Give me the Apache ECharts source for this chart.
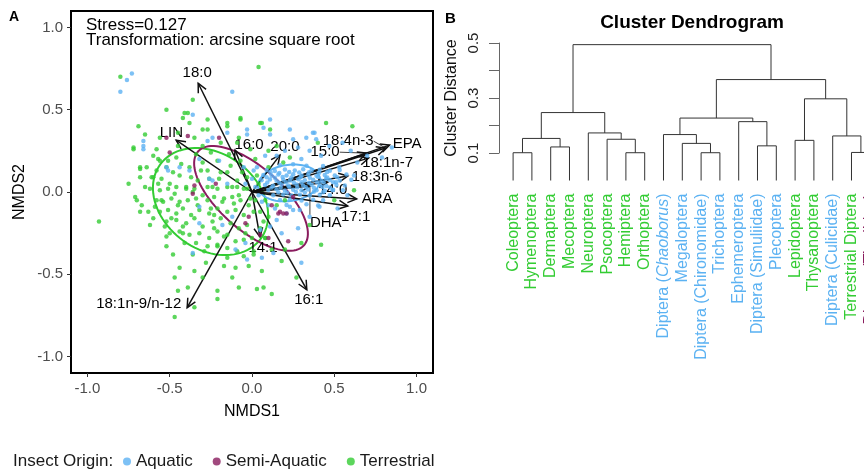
<!DOCTYPE html>
<html>
<head>
<meta charset="utf-8">
<script src="https://cdn.jsdelivr.net/npm/echarts@6.0.0/dist/echarts.min.js"></script>
<style>
  html, body { margin: 0; padding: 0; background: #fff; }
  #main { width: 864px; height: 472px; }
</style>
</head>
<body>
<div id="main"></div>
<script>
var FONT = '"Liberation Sans", Arial, sans-serif';

// ---- panel A: NMDS scores ----
var nmdsTicks = [-1, -0.5, 0, 0.5, 1];

var terrestrial = [
  [-0.80,0.70],[0.04,0.76],[-0.36,0.56],[-0.52,0.50],[-0.41,0.48],[-0.39,0.48],[-0.42,0.45],[-0.38,0.42],
  [-0.69,0.40],[-0.65,0.35],[-0.72,0.27],[-0.72,0.26],[-0.56,0.33],[-0.27,0.44],[-0.27,0.38],[-0.15,0.42],
  [-0.15,0.40],[-0.07,0.44],[0.05,0.42],[0.11,0.38],[-0.60,0.22],[-0.57,0.20],[-0.68,0.15],[-0.68,0.09],
  [-0.60,0.09],[-0.51,0.19],[-0.35,0.33],[0.61,0.40],[0.62,0.01],[0.42,-0.32],[0.30,-0.31],[0.27,-0.52],
  [0.12,-0.62],[0.07,-0.58],[0.03,-0.59],[-0.08,-0.58],[-0.21,-0.60],[-0.21,-0.65],[-0.35,-0.70],[-0.47,-0.76],
  [-0.93,-0.18],[-0.71,-0.03],[-0.70,-0.05],[-0.68,-0.12],[-0.63,-0.12],[-0.60,-0.16],[-0.67,-0.08],[-0.52,-0.33],
  [-0.48,-0.38],[-0.44,-0.46],[-0.47,-0.52],[-0.39,-0.58],[-0.17,-0.45],[-0.15,-0.40],[-0.10,-0.46],[-0.21,-0.33],
  [-0.05,-0.39],[0.01,-0.38],[0.19,0.18],[0.23,0.21],[-0.07,0.45],[0.06,0.42],
  [-0.58,0.13],[-0.52,0.15],[-0.44,0.10],[-0.38,0.15],[-0.33,0.07],[-0.27,0.13],[-0.20,0.08],[-0.15,0.12],
  [-0.09,0.07],[-0.03,0.09],[-0.50,0.05],[-0.40,0.03],[-0.24,0.03],[-0.12,0.03],[-0.56,0.19],[-0.46,0.21],
  [-0.34,0.23],[-0.21,0.19],[-0.14,0.23],[-0.07,0.19],[-0.19,0.30],[-0.30,0.28],[-0.09,0.30],[-0.01,0.26],
  [-0.61,0.09],[-0.64,0.15],[-0.68,0.14],[-0.58,0.26],
  [-0.56,0.01],[-0.51,0.02],[-0.46,0.03],[-0.40,0.02],[-0.35,0.02],[-0.27,0.03],[-0.21,0.02],[-0.15,0.03],
  [-0.09,0.03],[-0.03,0.02],[-0.58,-0.05],[-0.54,-0.06],[-0.49,-0.04],[-0.44,-0.06],[-0.39,-0.05],[-0.34,-0.04],
  [-0.27,-0.05],[-0.23,-0.03],[-0.17,-0.04],[-0.12,-0.03],[-0.07,-0.05],[-0.01,-0.04],[-0.56,-0.12],[-0.51,-0.11],
  [-0.46,-0.13],[-0.42,-0.10],[-0.37,-0.14],[-0.32,-0.11],[-0.26,-0.13],[-0.21,-0.10],[-0.15,-0.12],[-0.10,-0.11],
  [-0.05,-0.14],[0.01,-0.12],[-0.52,-0.18],[-0.46,-0.17],[-0.40,-0.19],[-0.35,-0.16],[-0.30,-0.21],[-0.24,-0.18],
  [-0.19,-0.16],[-0.13,-0.19],[-0.08,-0.22],[-0.03,-0.20],[-0.44,-0.24],[-0.38,-0.26],[-0.32,-0.25],[-0.26,-0.28],
  [-0.21,-0.24],[-0.15,-0.26],[-0.10,-0.30],[-0.34,-0.31],[-0.27,-0.33],[-0.21,-0.32],[-0.15,-0.34],[-0.05,-0.29],
  [0.01,-0.36],[-0.09,-0.36],[0.08,-0.28],[0.05,-0.22],[-0.23,-0.22],[-0.49,-0.16],[-0.42,-0.21],
  [-0.05,0.02],[0.02,-0.05],[-0.02,-0.08],[0.05,-0.12],[0.08,-0.05],[-0.08,-0.02],[0.10,-0.15],[0.15,-0.08],
  [0.04,0.05],[-0.30,-0.02],[-0.45,-0.08],[-0.36,0.00],[-0.18,-0.06],[-0.25,-0.10],[-0.42,-0.25],[-0.50,-0.25],
  [-0.55,-0.05],[-0.30,0.18],[-0.25,0.24],[-0.45,0.28],[0.08,-0.28],[0.12,-0.35],[0.00,-0.28],[-0.02,-0.45],
  [0.18,-0.42],[-0.28,-0.43],[-0.35,-0.48],[0.20,-0.05],[0.10,0.15],[0.15,0.28],[0.40,0.30],[0.50,-0.05],
  [-0.62,0.02],[-0.59,-0.09],[-0.55,0.08],[-0.53,-0.21],[-0.48,0.12],[-0.47,-0.01],[-0.43,0.17],[-0.41,-0.31],
  [-0.37,0.09],[-0.33,-0.08],[-0.31,0.13],[-0.29,-0.36],[-0.26,0.08],[-0.23,-0.14],[-0.19,0.12],[-0.17,-0.27],
  [-0.13,0.16],[-0.11,-0.07],[-0.06,0.12],[-0.04,-0.25],[0.03,0.10],[0.07,-0.18],[-0.52,-0.27],[-0.57,0.05],
  [-0.36,-0.38],[-0.12,-0.52],[0.06,-0.48],[-0.65,0.03],[-0.62,-0.20],[-0.45,0.36],[-0.30,0.38],[-0.08,0.33],
  [0.02,0.20],[0.10,0.25],[-0.75,0.05],[-0.45,-0.60],[-0.30,-0.52],[0.20,-0.35],[0.35,-0.20],[0.45,0.42]
];

var aquatic = [
  [-0.73,0.72],[-0.76,0.68],[-0.80,0.61],[-0.12,0.61],[-0.36,0.47],[-0.66,0.31],[-0.66,0.28],[-0.66,0.26],
  [-0.27,0.31],[-0.24,0.33],[-0.03,0.38],[-0.03,0.35],[0.11,0.44],[0.11,0.35],[-0.15,0.36],[-0.52,0.15],
  [-0.24,0.07],[0.38,0.36],[0.23,0.38],[0.33,0.33],[0.25,0.32],[0.07,0.39],[0.39,0.32],[0.37,0.36],
  [0.53,0.15],[0.64,0.18],[0.70,0.22],[0.79,0.21],[0.85,0.27],[0.49,0.01],[0.41,-0.09],[0.29,-0.11],
  [0.23,-0.09],[0.45,0.08],[0.51,0.06],[-0.36,-0.37],[-0.10,-0.35],[-0.03,-0.41],[0.06,-0.40],[0.30,-0.43],
  [0.15,-0.17],[0.21,-0.13],[0.25,-0.11],[0.11,-0.21],[0.05,-0.23],[-0.12,-0.15],[-0.18,-0.20],[0.13,-0.37],
  [-0.04,-0.31],[-0.32,-0.19],[-0.32,-0.09],
  [-0.38,0.13],[-0.26,0.08],[-0.15,0.05],[-0.44,0.15],[-0.05,0.15],[-0.20,0.19],[-0.32,0.20],[0.01,0.13],[-0.51,0.13],
  [0.170,0.163],[0.250,0.168],[0.331,0.160],[0.432,0.158],
  [0.089,0.133],[0.139,0.128],[0.200,0.136],[0.260,0.131],[0.311,0.138],[0.362,0.130],[0.412,0.135],[0.473,0.129],[0.533,0.133],
  [0.069,0.103],[0.119,0.099],[0.160,0.106],[0.210,0.101],[0.250,0.108],[0.301,0.100],[0.341,0.105],[0.392,0.098],
  [0.442,0.104],[0.503,0.101],[0.574,0.106],
  [0.058,0.072],[0.109,0.076],[0.149,0.069],[0.190,0.074],[0.230,0.070],[0.281,0.077],[0.321,0.071],[0.372,0.075],
  [0.422,0.068],[0.473,0.073],[0.533,0.070],[0.604,0.075],
  [0.079,0.042],[0.129,0.038],[0.180,0.045],[0.220,0.040],[0.271,0.046],[0.311,0.039],[0.362,0.044],[0.412,0.041],
  [0.452,0.037],[0.513,0.043],[0.564,0.040],
  [0.099,0.012],[0.149,0.016],[0.200,0.009],[0.250,0.014],[0.301,0.010],[0.341,0.015],[0.392,0.011],[0.442,0.008],
  [0.493,0.013],[0.553,0.010],
  [0.129,-0.019],[0.190,-0.015],[0.240,-0.022],[0.291,-0.017],[0.351,-0.021],[0.412,-0.016],[0.473,-0.020],
  [0.170,-0.049],[0.230,-0.045],[0.301,-0.052],[0.372,-0.047],[0.432,-0.050],
  [0.210,-0.079],[0.331,-0.075],[0.402,-0.082],
  [0.113,0.119],[0.166,0.116],[0.226,0.121],[0.287,0.118],[0.347,0.120],[0.408,0.117],[0.457,0.121],
  [0.089,0.089],[0.139,0.086],[0.186,0.091],[0.240,0.088],[0.295,0.090],[0.351,0.087],[0.402,0.091],[0.457,0.088],[0.517,0.090],
  [0.093,0.058],[0.166,0.056],[0.206,0.060],[0.254,0.057],[0.301,0.059],[0.347,0.056],[0.396,0.060],[0.436,0.057],[0.493,0.059],
  [0.119,0.028],[0.174,0.026],[0.226,0.030],[0.275,0.027],[0.327,0.029],[0.376,0.026],[0.428,0.030],[0.473,0.027],
  [0.160,-0.002],[0.214,-0.004],[0.267,0.000],[0.321,-0.003],[0.376,0.001],[0.432,-0.002],
  [0.02,0.03],[0.04,-0.02],[0.00,0.08],[-0.04,0.05],[0.06,-0.06],[0.03,0.15],[0.10,-0.08],[0.14,-0.10],
  [0.20,0.25],[0.28,0.27],[0.15,0.22],[0.35,0.25],[0.42,0.22],[0.47,0.28],[0.55,0.30],[0.60,0.25],
  [0.08,0.22],[0.30,0.20],[0.62,0.10],[0.58,-0.02],[0.52,-0.10],[0.35,-0.15],[0.18,-0.25],[0.28,-0.22]
];

var semiAquatic = [
  [-0.52,0.33],[-0.39,0.34],[-0.50,0.24],[-0.20,0.33],[-0.35,0.04],[0.16,-0.13],[0.19,-0.13],[0.21,-0.13],
  [0.22,-0.30],[0.10,-0.28],[-0.04,-0.19],[-0.02,-0.15],[-0.36,-0.01],[0.25,-0.03],[0.05,-0.26],[0.17,-0.12],
  [-0.22,0.05],[0.12,-0.08]
];

// 95% ellipses per group
var ellipseGroup = ['Terrestrial', 'Semi-Aquatic', 'Aquatic'];
var ellipseCx = [-0.252, -0.006, 0.225];
var ellipseCy = [-0.058, -0.039, 0.055];
var ellipseA = [0.38, 0.43, 0.19];
var ellipseB = [0.29, 0.19, 0.11];
var ellipseAngle = [-37, -41.5, 8];

// fatty acid vectors
var arrowNames = ['18:0', 'LIN', '16:0', '20:0', 'EPA', '18:4n-3', '15:0', '18:1n-7', '18:3n-6',
  '14:0', 'DHA', 'ARA', '17:1', '14:1', '16:1', '18:1n-9/n-12'];
var arrowX = [-0.327, -0.461, -0.103, 0.170, 0.836, 0.812, 0.697, 0.709, 0.582, 0.460, 0.352, 0.636, 0.582, 0.048, 0.333, -0.394];
var arrowY = [0.661, 0.315, 0.255, 0.224, 0.285, 0.267, 0.236, 0.206, 0.097, 0.060, 0.036, -0.042, -0.085, -0.273, -0.594, -0.703];

// label placement for each vector: [x, y, align, verticalAlign, leader line]
var arrowLabelAt = [
  [-0.333, 0.722, 'center', 'middle', false],
  [-0.490, 0.362, 'center', 'middle', false],
  [-0.018, 0.285, 'center', 'middle', false],
  [0.200, 0.273, 'center', 'middle', false],
  [0.855, 0.291, 'left', 'middle', false],
  [0.739, 0.309, 'right', 'middle', true],
  [0.533, 0.242, 'right', 'middle', true],
  [0.824, 0.176, 'center', 'middle', false],
  [0.606, 0.091, 'left', 'middle', false],
  [0.491, 0.012, 'center', 'middle', false],
  [0.352, -0.139, 'left', 'top', true],
  [0.667, -0.042, 'left', 'middle', false],
  [0.630, -0.152, 'center', 'middle', false],
  [0.067, -0.339, 'center', 'middle', false],
  [0.345, -0.655, 'center', 'middle', false],
  [-0.430, -0.679, 'right', 'middle', false]
];

// ---- panel B: dendrogram ----
var leafNames = ['Coleoptera', 'Hymenoptera', 'Dermaptera', 'Mecoptera', 'Neuroptera', 'Psocoptera',
  'Hemiptera', 'Orthoptera', 'Diptera (Chaoborus)', 'Megaloptera', 'Diptera (Chironomidae)', 'Trichoptera',
  'Ephemeroptera', 'Diptera (Simuliidae)', 'Plecoptera', 'Lepidoptera', 'Thysanoptera',
  'Diptera (Culicidae)', 'Terrestrial Diptera', 'Diptera (Tipulidae)'];
var leafOrigin = ['Terrestrial', 'Terrestrial', 'Terrestrial', 'Terrestrial', 'Terrestrial', 'Terrestrial',
  'Terrestrial', 'Terrestrial', 'Aquatic', 'Aquatic', 'Aquatic', 'Aquatic', 'Aquatic', 'Aquatic', 'Aquatic',
  'Terrestrial', 'Terrestrial', 'Aquatic', 'Terrestrial', 'Semi-Aquatic'];
// hclust style: negative = leaf (plot order), positive = earlier merge row
var mergePairs = [[-1,-2],[-7,-8],[-11,-12],[-19,-20],[-3,-4],[-14,-15],[-10,3],[-16,-17],[-6,2],[1,5],
  [-18,4],[-9,7],[-5,9],[-13,6],[12,14],[10,13],[8,11],[15,17],[16,18]];
var mergeHeights = [0.101,0.101,0.101,0.102,0.122,0.126,0.135,0.146,0.150,0.153,0.162,0.167,0.173,0.214,
  0.227,0.247,0.297,0.367,0.494];
var distTicks = [0.1, 0.2, 0.3, 0.4, 0.5];
var distLabels = [0.1, 0.3, 0.5];

var originColor = { 'Aquatic': '#5CB2F2', 'Semi-Aquatic': '#8A1C5E', 'Terrestrial': '#33CC33' };

// build link rows from merges
var nodeX = [];
var linkRows = [];
function childPos(c) {
  return c < 0 ? [-c, 0] : [nodeX[c - 1], mergeHeights[c - 1]];
}
mergePairs.forEach(function (m, k) {
  var l = childPos(m[0]);
  var r = childPos(m[1]);
  nodeX[k] = (l[0] + r[0]) / 2;
  linkRows.push([l[0], l[1], r[0], r[1], mergeHeights[k]]);
});

function renderEllipse(params, api) {
  var i = params.dataIndex;
  var th = ellipseAngle[i] * Math.PI / 180;
  var pts = [];
  for (var k = 0; k <= 90; k++) {
    var t = k / 90 * 2 * Math.PI;
    var ex = ellipseA[i] * Math.cos(t), ey = ellipseB[i] * Math.sin(t);
    pts.push(api.coord([
      ellipseCx[i] + ex * Math.cos(th) - ey * Math.sin(th),
      ellipseCy[i] + ex * Math.sin(th) + ey * Math.cos(th)
    ]));
  }
  return {
    type: 'polyline',
    shape: { points: pts },
    style: { stroke: originColor[ellipseGroup[i]], lineWidth: 2, fill: null }
  };
}

function renderArrow(params, api) {
  var i = params.dataIndex;
  var o = api.coord([0, 0]);
  var p = api.coord([api.value(0), api.value(1)]);
  var ang = Math.atan2(p[1] - o[1], p[0] - o[0]);
  var h = 10, w = Math.PI / 7;
  var lab = arrowLabelAt[i];
  var lp = api.coord([lab[0], lab[1]]);
  var children = [
    { type: 'line', shape: { x1: o[0], y1: o[1], x2: p[0], y2: p[1] },
      style: { stroke: '#111', lineWidth: 1.5 } },
    { type: 'polyline', shape: { points: [
        [p[0] - h * Math.cos(ang - w), p[1] - h * Math.sin(ang - w)],
        [p[0], p[1]],
        [p[0] - h * Math.cos(ang + w), p[1] - h * Math.sin(ang + w)]
      ] }, style: { stroke: '#111', lineWidth: 1.5, fill: null } }
  ];
  if (lab[4]) {
    children.push({ type: 'line', shape: { x1: p[0], y1: p[1], x2: lp[0], y2: lp[1] },
      style: { stroke: '#111', lineWidth: 0.8 } });
  }
  children.push({
    type: 'text', x: lp[0], y: lp[1],
    style: { text: arrowNames[i], fill: '#000', fontSize: 15, fontFamily: FONT,
      align: lab[2], verticalAlign: lab[3] }
  });
  return { type: 'group', children: children };
}

function renderLink(params, api) {
  var a = api.coord([api.value(0), api.value(1)]);
  var b = api.coord([api.value(0), api.value(4)]);
  var c = api.coord([api.value(2), api.value(4)]);
  var d = api.coord([api.value(2), api.value(3)]);
  return {
    type: 'polyline',
    shape: { points: [a, b, c, d] },
    style: { stroke: '#333', lineWidth: 1, fill: null }
  };
}

function renderLeaf(params, api) {
  var i = params.dataIndex;
  var p = api.coord([api.value(0), 0]);
  var col = originColor[leafOrigin[i]];
  var name = leafNames[i];
  var text = name;
  var m = name.match(/^(.*\()Chaoborus(\))$/);
  if (m) text = '{n|' + m[1] + '}{it|Chaoborus}{n|' + m[2] + '}';
  return {
    type: 'text', x: p[0], y: p[1] + 13, rotation: Math.PI / 2,
    style: {
      text: text, fill: col, fontSize: 16, fontFamily: FONT,
      align: 'right', verticalAlign: 'middle',
      rich: {
        n: { fill: col, fontSize: 16, fontFamily: FONT },
        it: { fill: col, fontSize: 16, fontFamily: FONT, fontStyle: 'italic' }
      }
    }
  };
}

function fmt1(v) { return Number(v).toFixed(1); }

var chart = echarts.init(document.getElementById('main'));

var option = {
  animation: false,
  textStyle: { fontFamily: FONT },
  grid: [
    { left: 71, top: 11, width: 362, height: 362, show: true, borderColor: '#000', borderWidth: 2,
      backgroundColor: 'transparent' },
    // dendrogram grid ends at the canvas edge; the last leaf sits just past it
    { left: 499, top: 43, width: 365, height: 110 }
  ],
  xAxis: [
    {
      gridIndex: 0, type: 'value', min: -1.1, max: 1.1, position: 'bottom',
      splitLine: { show: false }, axisLine: { show: false, onZero: false },
      axisTick: { show: true, customValues: nmdsTicks, length: 4, lineStyle: { color: '#333' } },
      axisLabel: { customValues: nmdsTicks, formatter: fmt1, color: '#4D4D4D', fontSize: 15, margin: 8 },
      name: 'NMDS1', nameLocation: 'middle', nameGap: 31,
      nameTextStyle: { color: '#000', fontSize: 16 }
    },
    { gridIndex: 1, type: 'value', min: 0.25, max: 19.665, show: false }
  ],
  yAxis: [
    {
      gridIndex: 0, type: 'value', min: -1.1, max: 1.1, position: 'left',
      splitLine: { show: false }, axisLine: { show: false, onZero: false },
      axisTick: { show: true, customValues: nmdsTicks, length: 4, lineStyle: { color: '#333' } },
      axisLabel: { customValues: nmdsTicks, formatter: fmt1, color: '#4D4D4D', fontSize: 15, margin: 8 },
      name: 'NMDS2', nameLocation: 'middle', nameGap: 43, nameRotate: 90,
      nameTextStyle: { color: '#000', fontSize: 16 }
    },
    {
      gridIndex: 1, type: 'value', min: 0.1, max: 0.5, position: 'left',
      splitLine: { show: false },
      axisLine: { show: true, onZero: false, lineStyle: { color: '#666', width: 1 } },
      axisTick: { show: true, customValues: distTicks, length: 10, lineStyle: { color: '#666' } },
      axisLabel: { customValues: distLabels, formatter: fmt1, rotate: 90, color: '#222', fontSize: 15, margin: 18 },
      name: 'Cluster Distance', nameLocation: 'middle', nameGap: 39, nameRotate: 90,
      nameTextStyle: { color: '#111', fontSize: 16 }
    }
  ],
  legend: {
    data: ['Aquatic', 'Semi-Aquatic', 'Terrestrial'],
    left: 123, top: 453, padding: 0, icon: 'circle',
    itemWidth: 8, itemHeight: 8, itemGap: 20,
    textStyle: { fontSize: 17, color: '#1a1a1a', fontFamily: FONT }
  },
  graphic: [
    { type: 'text', left: 9, top: 10, style: { text: 'A', fontSize: 14, fontWeight: 'bold', fontFamily: FONT, fill: '#000' } },
    { type: 'text', left: 445, top: 11, style: { text: 'B', fontSize: 15, fontWeight: 'bold', fontFamily: FONT, fill: '#000' } },
    { type: 'text', left: 86, top: 17, style: { text: 'Stress=0.127', fontSize: 17, fontFamily: FONT, fill: '#000' } },
    { type: 'text', left: 86, top: 32, style: { text: 'Transformation: arcsine square root', fontSize: 17, fontFamily: FONT, fill: '#000' } },
    { type: 'text', x: 692, y: 23, style: { text: 'Cluster Dendrogram', fontSize: 19, fontWeight: 'bold', fontFamily: FONT,
      fill: '#000', align: 'center', verticalAlign: 'middle' } },
    { type: 'text', left: 13, top: 453, style: { text: 'Insect Origin:', fontSize: 17, fontFamily: FONT, fill: '#1a1a1a' } }
  ],
  series: [
    { name: 'Terrestrial', type: 'scatter', xAxisIndex: 0, yAxisIndex: 0, data: terrestrial,
      symbolSize: 4.5, itemStyle: { color: originColor['Terrestrial'] } },
    { name: 'Aquatic', type: 'scatter', xAxisIndex: 0, yAxisIndex: 0, data: aquatic,
      symbolSize: 4.5, itemStyle: { color: originColor['Aquatic'] } },
    { name: 'Semi-Aquatic', type: 'scatter', xAxisIndex: 0, yAxisIndex: 0, data: semiAquatic,
      symbolSize: 4.5, itemStyle: { color: originColor['Semi-Aquatic'] } },
    { type: 'custom', xAxisIndex: 0, yAxisIndex: 0, renderItem: renderEllipse, silent: true,
      data: ellipseCx.map(function (c, i) { return [c, ellipseCy[i]]; }) },
    { type: 'custom', xAxisIndex: 0, yAxisIndex: 0, renderItem: renderArrow, silent: true, clip: false,
      data: arrowX.map(function (x, i) { return [x, arrowY[i]]; }) },
    { type: 'custom', xAxisIndex: 1, yAxisIndex: 1, renderItem: renderLink, silent: true, clip: false,
      encode: { x: [0, 2], y: [1, 3, 4] }, data: linkRows },
    { type: 'custom', xAxisIndex: 1, yAxisIndex: 1, renderItem: renderLeaf, silent: true, clip: false,
      data: leafNames.map(function (n, i) { return [i + 1, 0]; }) }
  ]
};

chart.setOption(option);
</script>
</body>
</html>
